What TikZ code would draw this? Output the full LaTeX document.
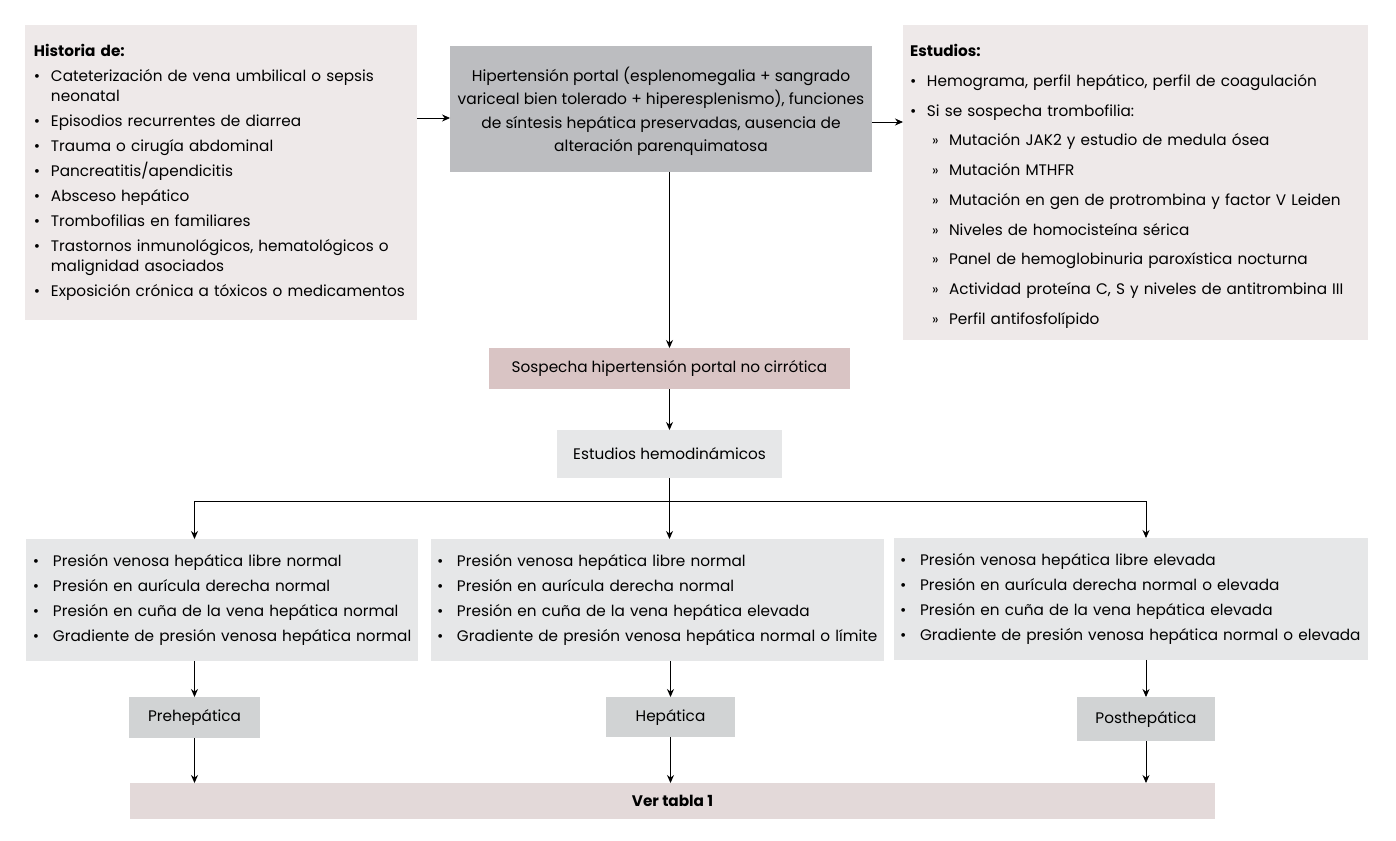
\documentclass[tikz,border=0pt]{standalone}
\usepackage{fontspec}
\setmainfont{Poppins}
\usetikzlibrary{arrows.meta,positioning,calc}
\definecolor{cpink}{HTML}{EEE9E9}
\definecolor{cgrey}{HTML}{BCBDC0}
\definecolor{crose}{HTML}{D9C4C4}
\definecolor{clight}{HTML}{E6E7E8}
\definecolor{cmid}{HTML}{D1D3D4}
\definecolor{ctab}{HTML}{E3D9D9}
\newcommand{\bul}[1]{\mbox{\makebox[0.34cm][l]{\textbullet}#1}}
\newcommand{\bulb}[1]{\mbox{\makebox[0.40cm][l]{\textbullet}#1}}
\newcommand{\gtm}[1]{\mbox{\hspace*{0.44cm}\makebox[0.34cm][l]{\footnotesize »}#1}}

\begin{document}
\begin{tikzpicture}[
  x=0.02cm,y=-0.02cm,
  font=\fontsize{8.7}{14.2}\selectfont,
  listbox/.style={anchor=north west,inner ysep=0pt,outer sep=0pt,align=left},
  midbox/.style={inner sep=0pt,outer sep=0pt,align=center},
  arr/.style={-{Stealth[length=1.6mm,width=1.4mm]},line width=0.5pt,black}]
  \useasboundingbox (0,0) rectangle (1396,840);
  % top row
  \node[listbox,fill=cpink,inner xsep=0.18cm,text width=7.48cm,minimum height=5.9cm] (hist) at (25,25)
    {{\bfseries Historia de:}\\
     \bul{Cateterización de vena umbilical o sepsis}\\[-0.1cm]
     \mbox{\hspace*{0.34cm}neonatal}\\
     \bul{Episodios recurrentes de diarrea}\\
     \bul{Trauma o cirugía abdominal}\\
     \bul{Pancreatitis/apendicitis}\\
     \bul{Absceso hepático}\\
     \bul{Trombofilias en familiares}\\
     \bul{Trastornos inmunológicos, hematológicos o}\\[-0.1cm]
     \mbox{\hspace*{0.34cm}malignidad asociados}\\
     \bul{Exposición crónica a tóxicos o medicamentos}};
  \node[midbox,fill=cgrey,minimum width=8.44cm,minimum height=2.52cm,
        font=\fontsize{8.8}{13.4}\selectfont] (hpt) at (661,109)
    {\rule{0pt}{0.38cm}Hipertensión portal (esplenomegalia + sangrado\\
     variceal bien tolerado + hiperesplenismo), funciones\\
     de síntesis hepática preservadas, ausencia de\\
     alteración parenquimatosa};
  \node[listbox,fill=cpink,inner xsep=0.14cm,text width=9.02cm,minimum height=6.3cm,
        font=\fontsize{8.7}{16.9}\selectfont] (est) at (903,25)
    {\rule{0pt}{0.4cm}{\bfseries Estudios:}\\
     \bul{Hemograma, perfil hepático, perfil de coagulación}\\
     \bul{Si se sospecha trombofilia:}\\
     \gtm{Mutación JAK2 y estudio de medula ósea}\\
     \gtm{Mutación MTHFR}\\
     \gtm{Mutación en gen de protrombina y factor V Leiden}\\
     \gtm{Niveles de homocisteína sérica}\\
     \gtm{Panel de hemoglobinuria paroxística nocturna}\\
     \gtm{Actividad proteína C, S y niveles de antitrombina III}\\
     \gtm{Perfil antifosfolípido}};
  \draw[arr] ([yshift=-0.18cm]hpt.west -| hist.east) -- ([yshift=-0.18cm]hpt.west);
  \draw[arr] ([yshift=-0.26cm]hpt.east) -- ([yshift=-0.26cm]hpt.east -| est.west);
  % middle
  \node[midbox,fill=crose,minimum width=7.22cm,minimum height=0.82cm] (susp) at (669.5,368.5)
    {Sospecha hipertensión portal no cirrótica};
  \node[midbox,fill=clight,minimum width=4.5cm,minimum height=0.96cm] (hemo) at (669.5,454)
    {Estudios hemodinámicos};
  \draw[arr] (hpt.south -| susp.north) -- (susp.north);
  \draw[arr] (susp) -- (hemo);
  % three branches
  \node[listbox,fill=clight,inner xsep=0.14cm,text width=7.56cm,minimum height=2.44cm] (b1) at (26,539)
    {\bulb{Presión venosa hepática libre normal}\\
     \bulb{Presión en aurícula derecha normal}\\
     \bulb{Presión en cuña de la vena hepática normal}\\
     \bulb{Gradiente de presión venosa hepática normal}};
  \node[listbox,fill=clight,inner xsep=0.12cm,text width=8.82cm,minimum height=2.44cm] (b2) at (431,539)
    {\bulb{Presión venosa hepática libre normal}\\
     \bulb{Presión en aurícula derecha normal}\\
     \bulb{Presión en cuña de la vena hepática elevada}\\
     \bulb{Gradiente de presión venosa hepática normal o límite}};
  \node[listbox,fill=clight,inner xsep=0.12cm,text width=9.24cm,minimum height=2.44cm] (b3) at (894,538)
    {\bulb{Presión venosa hepática libre elevada}\\
     \bulb{Presión en aurícula derecha normal o elevada}\\
     \bulb{Presión en cuña de la vena hepática elevada}\\
     \bulb{Gradiente de presión venosa hepática normal o elevada}};
  \node[midbox,fill=cmid,minimum width=2.62cm,minimum height=0.82cm] (pre) at (194.5,717.5) {Prehepática};
  \node[midbox,fill=cmid,minimum width=2.58cm,minimum height=0.8cm] (hep) at (670.5,717) {Hepática};
  \node[midbox,fill=cmid,minimum width=2.76cm,minimum height=0.88cm] (post) at (1146,719) {Posthepática};
  \node[midbox,fill=ctab,minimum width=21.7cm,minimum height=0.72cm] (tab) at (672.5,801)
    {\bfseries Ver tabla 1};
  \coordinate (bus) at ($(hemo.south)+(0,23)$);
  \draw[line width=0.5pt] (hemo.south) -- (bus);
  \draw[arr] (bus) -| (b1.north -| pre);
  \draw[arr] (bus) -| (b3.north -| post);
  \draw[arr] (bus) -- (b2.north -| bus);
  \foreach \s/\b in {pre/b1,hep/b2,post/b3}{
    \draw[arr] (\b.south -| \s) -- (\s);
    \draw[arr] (\s) -- (\s |- tab.north);
  }
\end{tikzpicture}
\end{document}
